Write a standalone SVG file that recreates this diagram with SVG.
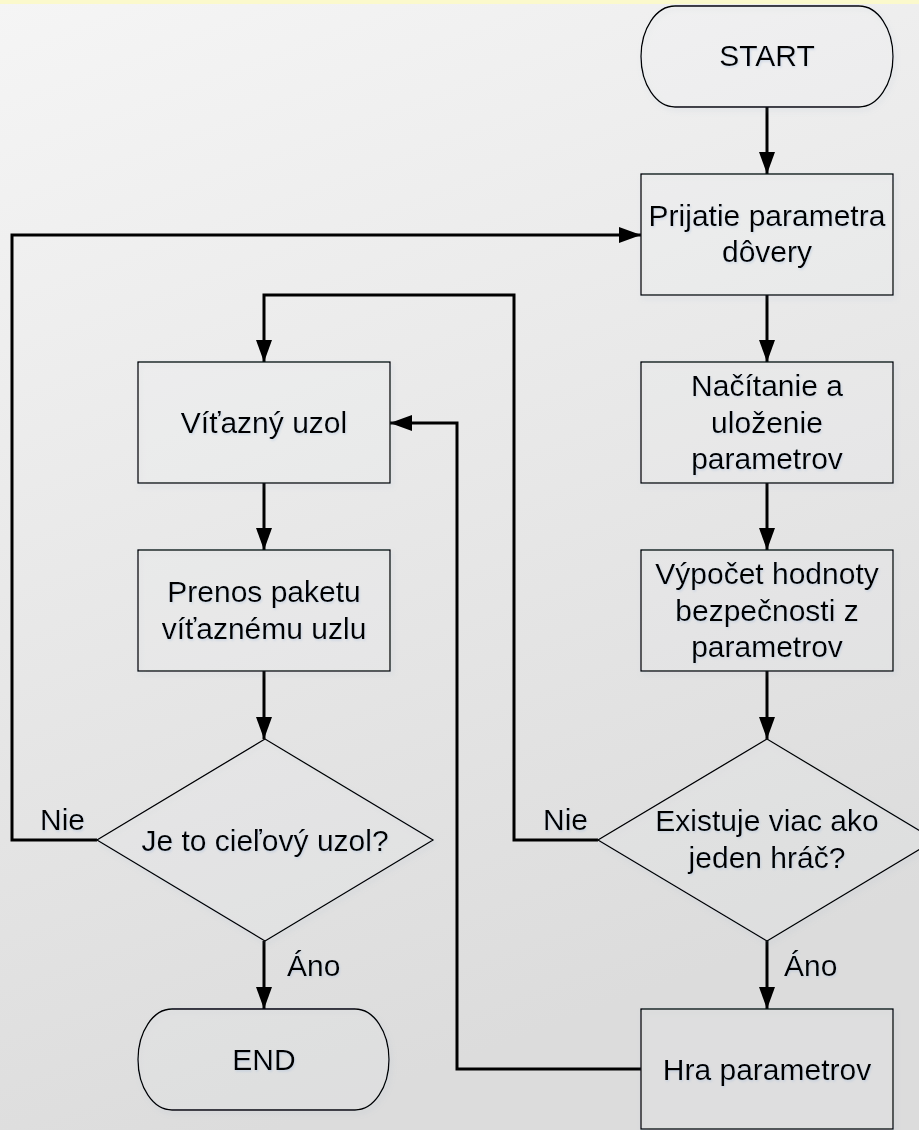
<svg xmlns="http://www.w3.org/2000/svg" width="919" height="1130" viewBox="0 0 919 1130">
<defs>
<linearGradient id="bg" x1="0" y1="0" x2="0.3" y2="1">
<stop offset="0" stop-color="#f5f5f5"/>
<stop offset="1" stop-color="#dcdcdc"/>
</linearGradient>
<filter id="ts" x="-10%" y="-30%" width="120%" height="160%">
<feDropShadow dx="1" dy="1.5" stdDeviation="1" flood-color="#a8bedc" flood-opacity="0.45"/>
</filter>
<filter id="ss" x="-10%" y="-10%" width="120%" height="120%">
<feDropShadow dx="2" dy="3" stdDeviation="2.5" flood-color="#8aa0c0" flood-opacity="0.25"/>
</filter>
<marker id="arr" markerUnits="userSpaceOnUse" markerWidth="24" markerHeight="18" refX="22" refY="8" orient="auto">
<path d="M0,0 L22,8 L0,16 Z" fill="#000"/>
</marker>
</defs>
<style>
.sh{fill:#ffffff;fill-opacity:0.08;stroke:#000;stroke-width:1.3;filter:url(#ss)}
.t{font-family:"Liberation Sans",Arial,sans-serif;font-size:30px;fill:#000;text-anchor:middle;filter:url(#ts)}
.l{font-family:"Liberation Sans",Arial,sans-serif;font-size:30px;fill:#000;filter:url(#ts)}
.c{fill:none;stroke:#000;stroke-width:3}
</style>
<rect x="0" y="0" width="919" height="1130" fill="url(#bg)"/>
<rect x="0" y="0" width="919" height="4" fill="#fbf9cc"/>

<g id="connectors">
<path class="c" d="M767,107 V174" marker-end="url(#arr)"/>
<path class="c" d="M767,295 V362" marker-end="url(#arr)"/>
<path class="c" d="M767,483 V550" marker-end="url(#arr)"/>
<path class="c" d="M767,671 V739" marker-end="url(#arr)"/>
<path class="c" d="M767,941 V1009" marker-end="url(#arr)"/>
<path class="c" d="M264,483 V550" marker-end="url(#arr)"/>
<path class="c" d="M264,671 V739" marker-end="url(#arr)"/>
<path class="c" d="M264,941 V1009" marker-end="url(#arr)"/>
<path class="c" d="M97,840 H12 V235 H641" marker-end="url(#arr)"/>
<path class="c" d="M598,840 H514 V295 H264 V362" marker-end="url(#arr)"/>
<path class="c" d="M641,1069 H457 V423 H390" marker-end="url(#arr)"/>
<text class="l" x="40" y="830">Nie</text>
<text class="l" x="543" y="830">Nie</text>
<text class="l" x="287" y="976">Áno</text>
<text class="l" x="784" y="976">Áno</text>
</g>

<g id="start">
<rect class="sh" x="641" y="6" width="252" height="101" rx="34" ry="50.5"/>
<text class="t" x="767" y="66">START</text>
</g>
<g id="prijatie">
<rect class="sh" x="641" y="174" width="252" height="121"/>
<text class="t" x="767" y="225.5">Prijatie parametra</text>
<text class="t" x="767" y="262">dôvery</text>
</g>
<g id="nacitanie">
<rect class="sh" x="641" y="362" width="252" height="121"/>
<text class="t" x="767" y="396">Načítanie a</text>
<text class="t" x="767" y="432.5">uloženie</text>
<text class="t" x="767" y="469">parametrov</text>
</g>
<g id="vypocet">
<rect class="sh" x="641" y="550" width="252" height="121"/>
<text class="t" x="767" y="584">Výpočet hodnoty</text>
<text class="t" x="767" y="620.5">bezpečnosti z</text>
<text class="t" x="767" y="657">parametrov</text>
</g>
<g id="existuje">
<polygon class="sh" points="767,739 935,840 767,941 598,840"/>
<text class="t" x="767" y="830.5">Existuje viac ako</text>
<text class="t" x="767" y="867.5">jeden hráč?</text>
</g>
<g id="hra">
<rect class="sh" x="641" y="1009" width="252" height="120"/>
<text class="t" x="767" y="1079.5">Hra parametrov</text>
</g>
<g id="vitazny">
<rect class="sh" x="138" y="362" width="252" height="121"/>
<text class="t" x="264" y="432.5">Víťazný uzol</text>
</g>
<g id="prenos">
<rect class="sh" x="138" y="550" width="252" height="121"/>
<text class="t" x="264" y="602">Prenos paketu</text>
<text class="t" x="264" y="638.5">víťaznému uzlu</text>
</g>
<g id="ciel">
<polygon class="sh" points="265,739 433,840 265,941 97,840"/>
<text class="t" x="265" y="851">Je to cieľový uzol?</text>
</g>
<g id="end">
<rect class="sh" x="138" y="1009" width="251" height="101" rx="34" ry="50.5"/>
<text class="t" x="264" y="1070">END</text>
</g>
</svg>
